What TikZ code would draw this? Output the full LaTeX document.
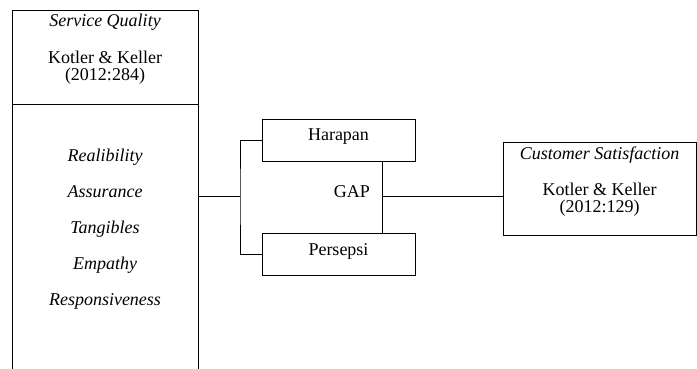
\documentclass[tikz,border=0pt]{standalone}
\usepackage{fontspec}
\setmainfont{Liberation Serif}
\usetikzlibrary{
    positioning
}

\begin{document}
\begin{tikzpicture}[x=1pt,y=-1pt,line width=0.9pt,
    every node/.style={font=\fontsize{18}{20}\selectfont},
    box/.style={draw,rectangle,inner sep=0pt},
    txt/.style={inner sep=0pt,anchor=base},
    ref/.style={inner sep=0pt,align=center,font=\fontsize{18}{17}\selectfont},
    item/.style={txt,font=\fontsize{18}{20}\selectfont\itshape}]
    \useasboundingbox (0,0) rectangle (697,369);
    \path[clip] (0,0) rectangle (697,369);
    % service quality
    \node[box,anchor=north west,minimum width=186pt,minimum height=400pt] (sq) at (12,10) {};
    \draw (sq.west |- 0,104) -- (sq.east |- 0,104);
    \node[item] (sqtitle) at (105,27) {Service Quality};
    \node[ref] (sqauth) at (105,67.5) {Kotler \& Keller\\(2012:284)};
    \node[item] (rel) at (105,161) {Realibility};
    \node[item] (ass) at (105,197) {Assurance};
    \node[item] (tan) at (105,233) {Tangibles};
    \node[item] (emp) at (105,269) {Empathy};
    \node[item] (res) at (105,305) {Responsiveness};
    % harapan / persepsi
    \node[box,minimum width=153pt,minimum height=42pt] (harapan) at (338.5,140) {};
    \node[txt] (harapantxt) at (338.5,141) {Harapan};
    \node[box,minimum width=153pt,minimum height=42pt] (persepsi) at (338.5,254) {};
    \node[txt] (persepsitxt) at (338.5,255) {Persepsi};
    \node[txt] (gap) at (352,197) {GAP};
    % customer satisfaction
    \node[box,anchor=north west,minimum width=193pt,minimum height=93pt] (cs) at (503,142) {};
    \node[item] (cstitle) at (599.5,159) {Customer Satisfaction};
    \node[ref] (csauth) at (599.5,199.5) {Kotler \& Keller\\(2012:129)};
    % connectors
    \coordinate (fork) at (240,196);
    \coordinate (gapx) at (382,196);
    \draw (fork -| sq.east) -- (fork);
    \draw (harapan.west) -| (fork) |- (persepsi.west);
    \draw (gapx |- harapan.south) -- (gapx |- persepsi.north);
    \draw (gapx) -- (gapx -| cs.west);
\end{tikzpicture}
\end{document}
